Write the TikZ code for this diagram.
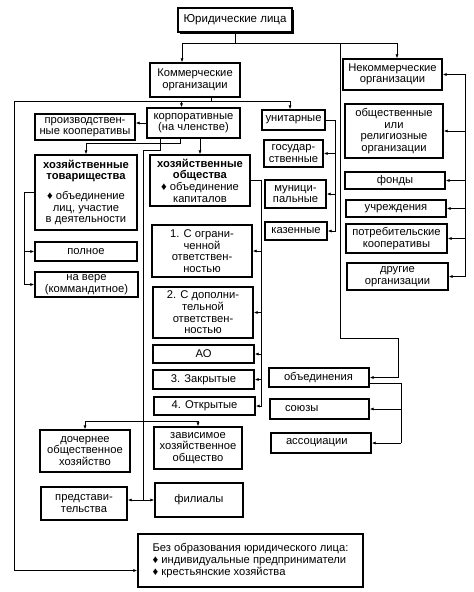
\documentclass[tikz,border=0pt]{standalone}
\usepackage{fontspec}
\setmainfont{Liberation Sans}
\usetikzlibrary{arrows.meta, positioning, calc, shadows}

\begin{document}
\begin{tikzpicture}[x=1pt, y=-1pt]
  \tikzset{
    box/.style={draw=black, line width=1.4pt, fill=white, align=center, inner sep=1.5pt,
      font=\fontsize{11.2}{11.6}\selectfont},
    headbox/.style={box, line width=1.4pt, font=\fontsize{11.5}{13}\selectfont,
      drop shadow={shadow xshift=1.8pt, shadow yshift=-1.8pt, opacity=1, fill=black}},
    leftbox/.style={box, align=left, inner xsep=#1},
    size/.style 2 args={minimum width=#1, minimum height=#2},
    link/.style={line width=0.9pt},
    branch/.style={line width=0.9pt, -{Latex[length=4pt, width=3.2pt]}}
  }
  \useasboundingbox (0,0) rectangle (474,592);

  % Top level and the two main kinds
  \node[headbox, size={114}{24}] (LegalEnt) at (235,20) {Юридические лица};
  \node[box, size={90}{34}] (Commercial) at (195,80) {Коммерческие\\организации};
  \node[box, size={99}{31}] (NonProfit) at (392.5,74.5) {Некоммерческие\\организации};

  % Commercial side
  \node[box, size={100}{26}] (ProdCoop) at (85,127) {производствен-\\ные кооперативы};
  \node[box, size={93}{30}] (Corporate) at (193.5,123) {корпоративные\\(на членстве)};
  \node[box, size={63}{20}] (Unitary) at (293.5,120) {унитарные};
  \node[box, size={59}{27}] (State) at (293.5,153.5) {государ-\\ственные};
  \node[box, size={61}{28}] (Municipal) at (295.5,194) {муници-\\пальные};
  \node[box, size={62}{18}] (Treasury) at (296,231) {казенные};

  \node[box, size={102}{75}] (Partnerships) at (86,192.5)
    {\textbf{хозяйственные}\\\textbf{товарищества}\\[8pt]♦ объединение\\лиц, участие\\в деятельности};
  \node[box, size={102}{19}] (FullPart) at (86,251.5) {полное};
  \node[box, size={103}{25}] (LimitedPart) at (86.5,284.5) {на вере\\(коммандитное)};

  \node[box, size={100}{51}] (Companies) at (200,180.5)
    {\textbf{хозяйственные}\\\textbf{общества}\\♦ объединение\\капиталов};
  \node[box, size={100}{52}] (LLC) at (202,251) {1. С ограни-\\ченной\\ответствен-\\ностью};
  \node[box, size={100}{51}] (ALC) at (203,312.5) {2. С дополни-\\тельной\\ответствен-\\ностью};
  \node[box, size={101}{18}] (JSC) at (203.5,354) {АО};
  \node[box, size={101}{19}] (Closed) at (203.5,379.5) {3. Закрытые};
  \node[box, size={101}{18}] (Open) at (204.5,406) {4. Открытые};

  \node[box, size={90}{42}] (Subsidiary) at (85,451) {дочернее\\общественное\\хозяйство};
  \node[box, size={88}{42}] (Dependent) at (198,448) {зависимое\\хозяйственное\\общество};
  \node[box, size={86}{33}] (Representative) at (84,503.5) {представи-\\тельства};
  \node[box, size={88}{34}] (Branches) at (199,500) {филиалы};

  % Non-profit side
  \node[box, size={98}{54}] (Public) at (394,131) {общественные\\или\\религиозные\\организации};
  \node[box, size={100}{17}] (Funds) at (395,180.5) {фонды};
  \node[box, size={100}{17}] (Institutions) at (396,208.5) {учреждения};
  \node[box, size={101}{29}] (ConsCoop) at (396.5,238.5) {потребительские\\кооперативы};
  \node[box, size={101}{27}] (OtherOrg) at (397.5,276.5) {другие\\организации};

  \node[leftbox=15pt, size={100}{19}, text width=70] (Unions) at (319,377.5) {объединения};
  \node[leftbox=15pt, size={99}{20}, text width=69] (Alliances) at (319.5,409) {союзы};
  \node[leftbox=15pt, size={100}{20}, text width=70] (Associations) at (321,443) {ассоциации};

  % Without legal entity
  \node[leftbox=8pt, size={225}{53}] (NoEntity) at (250.5,560.5)
    {Без образования юридического лица:\\♦ индивидуальные предприниматели\\♦ крестьянские хозяйства};

  % Top bus
  \coordinate (TopLeft) at (182,43);
  \coordinate (TopRight) at (397,43);
  \coordinate (TopMid) at (340,43);
  \draw[link] (LegalEnt.south) -- (LegalEnt.south |- TopLeft);
  \draw[link] (TopLeft) -- (TopRight);
  \draw[branch] (TopLeft) -- (TopLeft |- Commercial.north);
  \draw[branch] (TopRight) -- (TopRight |- NonProfit.north);

  % Long line down to the unions
  \coordinate (UnionTurn) at (398,338);
  \draw[branch] (TopMid) |- (UnionTurn) -- (UnionTurn |- Unions.east) -- (Unions.east);
  \coordinate (UnionOut) at ($(Unions.south east)+(0,-4)$);
  \coordinate (AllianceRail) at (401,443);
  \draw[link] (UnionOut) -| (AllianceRail);
  \draw[branch] (AllianceRail |- Alliances.east) -- (Alliances.east);
  \draw[branch] (AllianceRail) -- (Associations.east);

  % Commercial bus
  \coordinate (ComOut) at ($(Commercial.south)+(16,0)$);
  \coordinate (ComBusL) at (14,101);
  \coordinate (ComBusR) at (290,101);
  \coordinate (CorpIn) at ($(Corporate.north)+(-12,0)$);
  \coordinate (NoEntIn) at ($(NoEntity.west)+(0,10)$);
  \draw[link] (ComOut) -- (ComOut |- ComBusL);
  \draw[link] (ComBusL) -- (ComBusR);
  \draw[branch] (CorpIn |- ComBusL) -- (CorpIn);
  \draw[branch] (ComBusR) -- (ComBusR |- Unitary.north);
  \draw[branch] (ComBusL) |- (NoEntIn);

  % Corporate branches
  \draw[branch] (Corporate.west) -- (Corporate.west -| ProdCoop.east);
  \draw[branch] ($(Corporate.south)+(-13,0)$) -- ++(0,5) -| (Partnerships.north);
  \draw[branch] (Companies.north |- Corporate.south) -- (Companies.north);

  % Trunk to subsidiaries and branches
  \coordinate (TrunkTop) at (143,150);
  \coordinate (SubBus) at (143,421);
  \coordinate (TrunkEnd) at (143,500);
  \draw[link] ($(Corporate.south)+(-33,0)$) |- (TrunkTop) -- (TrunkEnd);
  \draw[link] (Subsidiary.north |- SubBus) -- (Dependent.north |- SubBus);
  \draw[branch] (Subsidiary.north |- SubBus) -- (Subsidiary.north);
  \draw[branch] (Dependent.north |- SubBus) -- (Dependent.north);
  \draw[branch] (TrunkEnd) -- (TrunkEnd -| Representative.east);
  \draw[branch] (TrunkEnd) -- (TrunkEnd -| Branches.west);

  % Unitary rail
  \coordinate (UnitRail) at ($(Unitary.east)+(10,0)$);
  \draw[link] (Unitary.east) -| (UnitRail |- Treasury.east);
  \draw[branch] (UnitRail |- State.east) -- (State.east);
  \draw[branch] (UnitRail |- Municipal.east) -- (Municipal.east);
  \draw[branch] (UnitRail |- Treasury.east) -- (Treasury.east);

  % Companies rail
  \coordinate (CoRail) at ($(Companies.east)+(11,0)$);
  \draw[link] (Companies.east) -| (CoRail |- Open.east);
  \draw[branch] (CoRail |- LLC.east) -- (LLC.east);
  \draw[branch] (CoRail |- ALC.east) -- (ALC.east);
  \draw[branch] (CoRail |- JSC.east) -- (JSC.east);
  \draw[branch] (CoRail |- Closed.east) -- (Closed.east);
  \draw[branch] (CoRail |- Open.east) -- (Open.east);

  % Partnerships rail
  \coordinate (PartRail) at ($(Partnerships.west)+(-10,0)$);
  \draw[link] (Partnerships.west) -| (PartRail |- LimitedPart.west);
  \draw[branch] (PartRail |- FullPart.west) -- (FullPart.west);
  \draw[branch] (PartRail |- LimitedPart.west) -- (LimitedPart.west);

  % Non-profit rail
  \coordinate (NPRail) at ($(NonProfit.east)+(23,0)$);
  \draw[link] (NPRail) -- (NPRail |- OtherOrg.east);
  \draw[branch] (NPRail) -- (NonProfit.east);
  \draw[branch] (NPRail |- Public.east) -- (Public.east);
  \draw[branch] (NPRail |- Funds.east) -- (Funds.east);
  \draw[branch] (NPRail |- Institutions.east) -- (Institutions.east);
  \draw[branch] (NPRail |- ConsCoop.east) -- (ConsCoop.east);
  \draw[branch] (NPRail |- OtherOrg.east) -- (OtherOrg.east);
\end{tikzpicture}
\end{document}
